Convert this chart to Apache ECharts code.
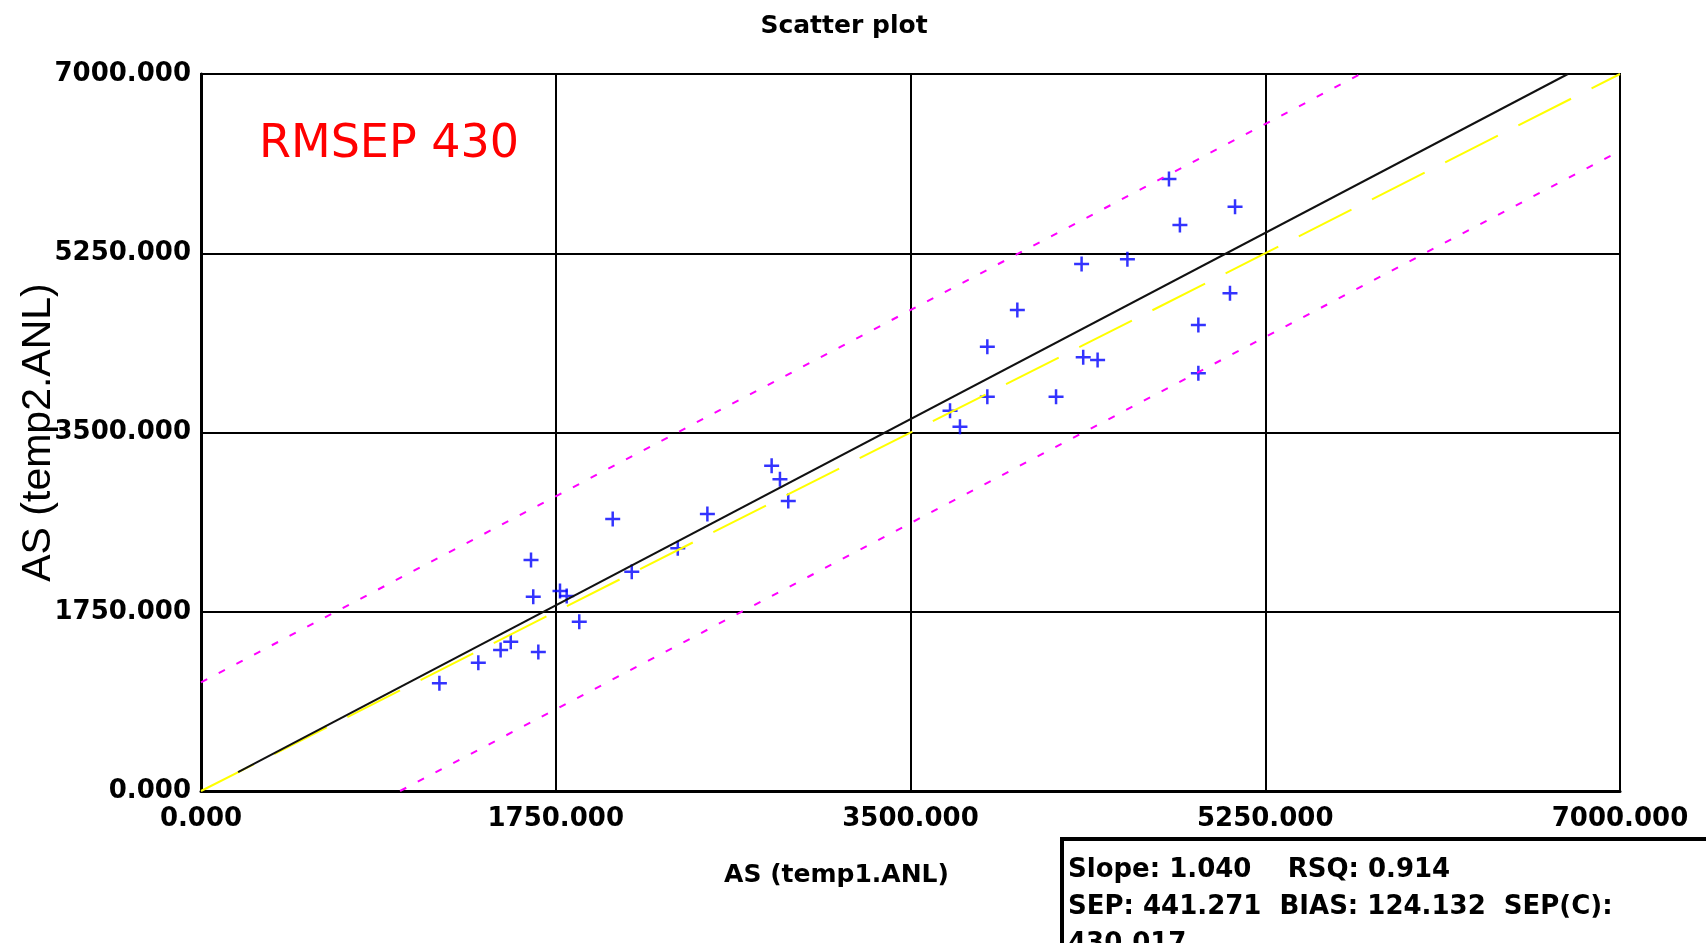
<html>
<head>
    <meta charset="utf-8">
    <script src="https://cdn.jsdelivr.net/npm/echarts@6/dist/echarts.min.js"></script>
</head>
<body style="margin:0;background:#fff">
<div id="main" style="width:1706px;height:943px"></div>
<script>
    // measured points: AS (temp1.ANL) vs AS (temp2.ANL)
    var measX = [1176, 1368, 1478, 1528, 1664, 1628, 1639, 1771, 1804, 1866, 2031,
        2125, 2352, 2498, 2815, 2856, 2897,
        3695, 3744, 3879, 3879, 4027, 4218, 4344, 4352, 4423,
        4570, 4775, 4829, 4920, 4920, 5076, 5101];
    var measY = [1051, 1253, 1377, 1458, 1357, 2255, 1897, 1953, 1904, 1653, 2656,
        2141, 2369, 2704, 3176, 3043, 2831,
        3713, 3557, 3849, 4338, 4696, 3849, 5145, 4234, 4208,
        5191, 5975, 5526, 4550, 4078, 4859, 5705];

    // reference lines (end points)
    var fitLine = [[183, 185], [6743, 7000]];
    var identityLine = [[0, 0], [7000, 7000]];
    var upperLimit = [[0, 1060], [5720, 7000]];
    var lowerLimit = [[982, 0], [7000, 6250]];

    var axisTicks = [0, 1750, 3500, 5250, 7000];
    var statsLines = [
        'Slope: 1.040    RSQ: 0.914',
        'SEP: 441.271  BIAS: 124.132  SEP(C):',
        '430.017'
    ];

    var points = measX.map(function (x, i) {
        return [x, measY[i]];
    });

    var font = 'DejaVu Sans';
    var plus = 'path://M6.25,0H8.75V6.25H15V8.75H8.75V15H6.25V8.75H0V6.25H6.25Z';

    var chart = echarts.init(document.getElementById('main'));

    var axisCommon = {
        type: 'value',
        min: axisTicks[0],
        max: axisTicks[axisTicks.length - 1],
        interval: axisTicks[1] - axisTicks[0],
        nameMoveOverlap: false,
        axisLine: {show: true, lineStyle: {color: '#000', width: 3}},
        axisTick: {show: false},
        splitLine: {show: true, lineStyle: {color: '#000', width: 2}},
        axisLabel: {
            color: '#000',
            fontFamily: font,
            fontWeight: 'bold',
            fontSize: 26,
            formatter: function (v) {
                return v.toFixed(3);
            }
        }
    };

    var option = {
        backgroundColor: '#fff',
        animation: false,
        title: [{
            text: 'Scatter plot',
            left: 839,
            top: 9,
            textAlign: 'center',
            textStyle: {fontFamily: font, fontWeight: 'bold', fontSize: 25, color: '#000'}
        }, {
            text: 'RMSEP 430',
            left: 254,
            top: 117,
            textStyle: {fontFamily: font, fontWeight: 'normal', fontSize: 46, color: '#ff0000'}
        }],
        grid: {
            left: 201,
            right: 86,
            top: 74,
            bottom: 152,
            show: true,
            borderColor: '#000',
            borderWidth: 2,
            outerBoundsMode: 'none'
        },
        xAxis: echarts.util.merge({
            name: 'AS (temp1.ANL)',
            nameLocation: 'middle',
            nameGap: 72,
            nameTextStyle: {
                fontFamily: font, fontWeight: 'bold', fontSize: 25, color: '#000',
                padding: [0, 148, 0, 0]
            },
            axisLabel: {margin: 15}
        }, axisCommon),
        yAxis: echarts.util.merge({
            name: 'AS (temp2.ANL)',
            nameLocation: 'middle',
            nameRotate: 90,
            nameGap: 142,
            nameTextStyle: {fontFamily: 'Liberation Sans', fontSize: 41, color: '#000'},
            axisLabel: {margin: 10}
        }, axisCommon),
        series: [{
            type: 'scatter',
            data: points,
            symbol: plus,
            symbolSize: 15,
            itemStyle: {color: '#0000ff'}
        }, {
            type: 'line',
            data: identityLine,
            showSymbol: false,
            lineStyle: {color: '#ffff00', width: 2, type: [59, 23]}
        }, {
            type: 'line',
            data: fitLine,
            showSymbol: false,
            lineStyle: {color: '#111', width: 2}
        }, {
            type: 'line',
            data: upperLimit,
            showSymbol: false,
            lineStyle: {color: '#ff00ff', width: 2, type: [7, 13]}
        }, {
            type: 'line',
            data: lowerLimit,
            showSymbol: false,
            lineStyle: {color: '#ff00ff', width: 2, type: [7, 13]}
        }],
        graphic: [{
            type: 'rect',
            shape: {x: 1062, y: 839, width: 700, height: 200},
            style: {fill: '#fff', stroke: '#000', lineWidth: 4}
        }, {
            type: 'text',
            x: 1068,
            y: 852,
            style: {
                text: statsLines.join('\n'),
                font: 'bold 26px "DejaVu Sans"',
                lineHeight: 37,
                fill: '#000'
            }
        }]
    };

    chart.setOption(option);
</script>
</body>
</html>
